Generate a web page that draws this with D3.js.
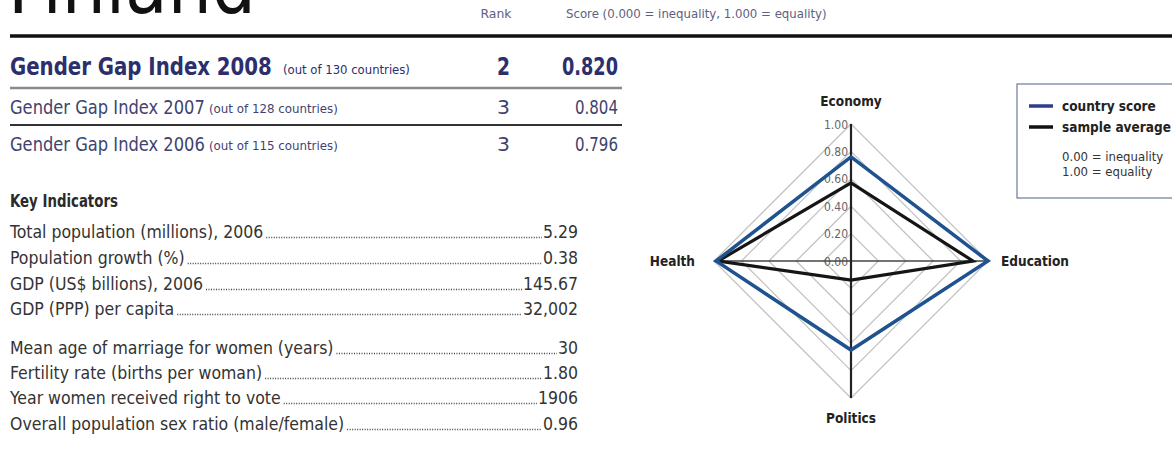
<!DOCTYPE html>
<html><head><meta charset="utf-8">
<script src="https://cdn.jsdelivr.net/npm/d3@7"></script>
<style>
body{margin:0;background:#fff;}
svg{display:block;}
text{font-family:"Liberation Sans Narrow","DejaVu Sans Condensed","Arial Narrow","Liberation Sans",sans-serif;}
</style></head>
<body><svg id="c" width="1172" height="460"></svg>
<script>
// ---- data ----
const countryName = "Finland";
const gapLabels = ["Gender Gap Index 2008", "Gender Gap Index 2007", "Gender Gap Index 2006"];
const gapNotes = ["(out of 130 countries)", "(out of 128 countries)", "(out of 115 countries)"];
const gapRanks = ["2", "3", "3"];
const gapScores = ["0.820", "0.804", "0.796"];
const indicatorLabels = [
  "Total population (millions), 2006",
  "Population growth (%)",
  "GDP (US$ billions), 2006",
  "GDP (PPP) per capita",
  "Mean age of marriage for women (years)",
  "Fertility rate (births per woman)",
  "Year women received right to vote",
  "Overall population sex ratio (male/female)"
];
const indicatorValues = ["5.29", "0.38", "145.67", "32,002", "30", "1.80", "1906", "0.96"];
const categories = ["Economy", "Education", "Politics", "Health"];
const countryScore = [0.76, 1.00, 0.65, 0.985];
const sampleAverage = [0.57, 0.89, 0.14, 0.97];
const tickValues = [0, 0.2, 0.4, 0.6, 0.8, 1.0];
const legendLabels = ["country score", "sample average"];
const legendNotes = ["0.00 = inequality", "1.00 = equality"];

const svg = d3.select("#c");

// text fitted to a width by horizontal scaling (condensed look)
function fitText(parent, str, x, y, w, fs, opts = {}) {
  const gg = parent.append("g");
  const t = gg.append("text").attr("x", 0).attr("y", 0).attr("font-size", fs)
    .attr("fill", opts.fill || "#222").attr("font-weight", opts.bold ? "bold" : "normal").text(str);
  if (opts.family) t.attr("font-family", opts.family);
  const nat = t.node().getComputedTextLength();
  const k = w / nat;
  const x0 = opts.anchor === "end" ? x - w : (opts.anchor === "middle" ? x - w / 2 : x);
  gg.attr("transform", `translate(${x0},${y}) scale(${k},1)`);
  return gg;
}

// ---- header ----
fitText(svg, countryName, 8, 13, 248, 80, {family: "Liberation Sans, Arial, sans-serif", fill: "#111"});
fitText(svg, "Rank", 496, 18, 31, 11.5, {anchor: "middle", fill: "#5c6080"});
fitText(svg, "Score (0.000 = inequality, 1.000 = equality)", 566, 18, 261, 11.5, {fill: "#5c6080"});
svg.append("line").attr("x1", 10).attr("x2", 1172).attr("y1", 36).attr("y2", 36)
  .attr("stroke", "#111").attr("stroke-width", 3.5);

// ---- gender gap rows ----
const rowY = d3.scaleOrdinal().domain(gapLabels).range([75, 114, 151]);
const labW = [262, 195, 195];
const noteX = [283, 209, 209];
const noteW = [127, 129, 129];
const scoreW = [56, 43, 43];
gapLabels.forEach((l, i) => {
  const big = i === 0;
  const col = big ? "#2c2f6c" : "#3f4370";
  const fs = big ? 25 : 19;
  const o = {fill: col, bold: big};
  fitText(svg, l, 10, rowY(l), labW[i], fs, o);
  fitText(svg, gapNotes[i], noteX[i], rowY(l) - 1, noteW[i], 12, {fill: col});
  fitText(svg, gapRanks[i], 497, rowY(l), 13, fs, o);
  fitText(svg, gapScores[i], 618, rowY(l), scoreW[i], fs, Object.assign({anchor: "end"}, o));
});
svg.append("line").attr("x1", 10).attr("x2", 622).attr("y1", 88).attr("y2", 88).attr("stroke", "#8a8a8a").attr("stroke-width", 2.5);
svg.append("line").attr("x1", 10).attr("x2", 622).attr("y1", 125).attr("y2", 125).attr("stroke", "#333").attr("stroke-width", 2);

// ---- key indicators ----
fitText(svg, "Key Indicators", 10, 207, 108, 17, {bold: true, fill: "#2a2a2a"});
const indY = d3.scaleOrdinal().domain(indicatorLabels).range([238, 264, 290, 315, 354, 379, 404, 430]);
const valRight = 578;
indicatorLabels.forEach((l, i) => {
  const y = indY(l);
  const t = svg.append("text").attr("x", 10).attr("y", y).attr("font-size", 17.5).attr("fill", "#333").text(l);
  const v = svg.append("text").attr("x", valRight).attr("y", y).attr("text-anchor", "end")
    .attr("font-size", 17.5).attr("fill", "#333").text(indicatorValues[i]);
  const x1 = 10 + t.node().getComputedTextLength() + 3;
  const x2 = valRight - v.node().getComputedTextLength() - 1;
  svg.append("line").attr("x1", x1).attr("x2", x2).attr("y1", y - 0.5).attr("y2", y - 0.5)
    .attr("stroke", "#444").attr("stroke-width", 1.4).attr("stroke-dasharray", "1,1.5");
});

// ---- radar ----
const cx = 851, cy = 261;
const r = d3.scaleLinear().domain([0, 1]).range([0, 137]);
const ang = d3.scaleOrdinal().domain(categories).range([0, Math.PI / 2, Math.PI, 3 * Math.PI / 2]);
const g = svg.append("g").attr("transform", `translate(${cx},${cy})`);
const radial = d3.lineRadial().angle(d => ang(d.c)).radius(d => r(d.v)).curve(d3.curveLinearClosed);

// grid
tickValues.filter(t => t > 0).forEach(t => {
  g.append("path").attr("d", radial(categories.map(c => ({c, v: t}))))
    .attr("fill", "none").attr("stroke", "#c4c4c4").attr("stroke-width", 1.3);
});
// tick labels
tickValues.forEach(t => {
  g.append("text").attr("x", -3).attr("y", -r(t) + 4.5).attr("text-anchor", "end")
    .attr("font-size", 12).attr("fill", "#666").text(t.toFixed(2));
});
// axes
g.append("line").attr("x1", -r(1)).attr("x2", r(1)).attr("y1", 0).attr("y2", 0).attr("stroke", "#444").attr("stroke-width", 1.5);
g.append("line").attr("x1", 0).attr("x2", 0).attr("y1", -r(1)).attr("y2", r(1)).attr("stroke", "#222").attr("stroke-width", 2.2);

// series
g.append("path").attr("d", radial(categories.map((c, i) => ({c, v: sampleAverage[i]}))))
  .attr("fill", "none").attr("stroke", "#151515").attr("stroke-width", 3.2).attr("stroke-linejoin", "miter");
g.append("path").attr("d", radial(categories.map((c, i) => ({c, v: countryScore[i]}))))
  .attr("fill", "none").attr("stroke", "#1f5390").attr("stroke-width", 3.5).attr("stroke-linejoin", "miter");

// category labels
const catStyle = sel => sel.attr("font-size", 13.5).attr("font-weight", "bold").attr("fill", "#222");
catStyle(g.append("text").attr("x", 0).attr("y", -r(1) - 18).attr("text-anchor", "middle").text(categories[0]));
catStyle(g.append("text").attr("x", r(1) + 13).attr("y", 5).attr("text-anchor", "start").text(categories[1]));
catStyle(g.append("text").attr("x", 0).attr("y", r(1) + 25).attr("text-anchor", "middle").text(categories[2]));
catStyle(g.append("text").attr("x", -r(1) - 19).attr("y", 5).attr("text-anchor", "end").text(categories[3]));

// legend
const lg = svg.append("g");
lg.append("rect").attr("x", 1017).attr("y", 84).attr("width", 170).attr("height", 114)
  .attr("fill", "#fff").attr("stroke", "#6a7aa0").attr("stroke-width", 1.2);
const legColors = ["#2c3e8c", "#111"];
legendLabels.forEach((l, i) => {
  const y = 106 + i * 21;
  lg.append("line").attr("x1", 1029).attr("x2", 1053).attr("y1", y).attr("y2", y)
    .attr("stroke", legColors[i]).attr("stroke-width", 3.5);
  lg.append("text").attr("x", 1062).attr("y", y + 4.5).attr("font-size", 13.5).attr("font-weight", "bold")
    .attr("fill", "#222").text(l);
});
legendNotes.forEach((l, i) => {
  lg.append("text").attr("x", 1062).attr("y", 161 + i * 15).attr("font-size", 13)
    .attr("fill", "#333").text(l);
});
</script></body></html>
